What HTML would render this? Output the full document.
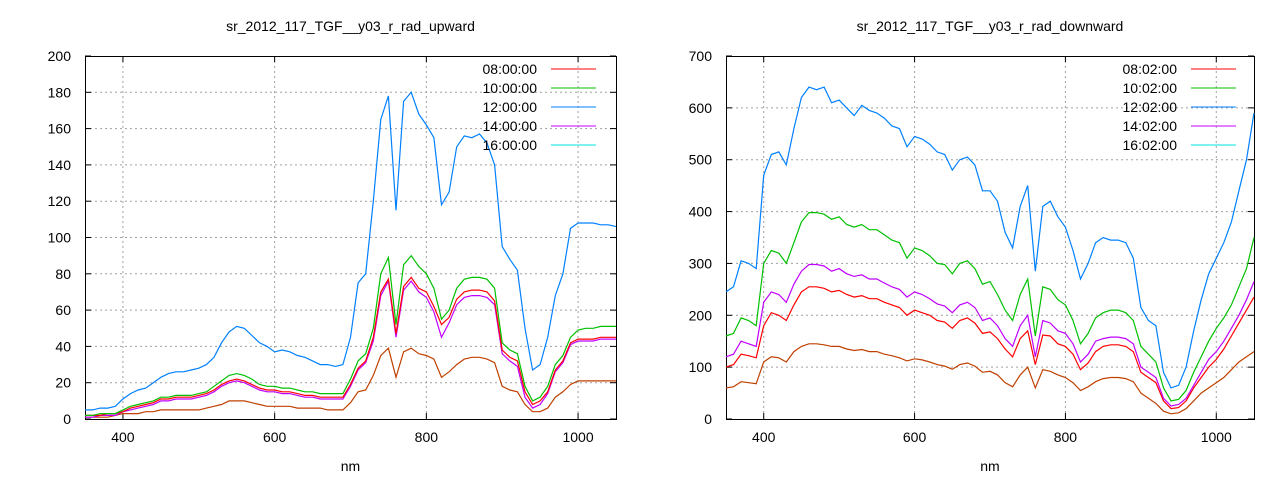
<!DOCTYPE html>
<html><head><meta charset="utf-8"><style>
body{margin:0;background:#fff;}
svg{display:block;font-family:"Liberation Sans",sans-serif;}
</style></head><body>
<svg id="c" width="1280" height="480"></svg>
<script>
const wavelengths = [];
for (let w = 350; w <= 1050; w += 10) wavelengths.push(w);
const xTicks = [400, 600, 800, 1000];
const yTicksLeft = [0,20,40,60,80,100,120,140,160,180,200];
const yTicksRight = [0,100,200,300,400,500,600,700];
const legendLeft = ["08:00:00","10:00:00","12:00:00","14:00:00","16:00:00"];
const legendRight = ["08:02:00","10:02:00","12:02:00","14:02:00","16:02:00"];

const upBlue = [5,5,6,6,7,11,14,16,17,20, 23,25,26,26,27,28,30,34,42,48, 51,50,46,42,40,37,38,37,35,34, 32,30,30,29,30,45,75,80,120,165, 178,115,175,180,168,162,155,118,125,150, 156,155,157,152,140,95,88,82,50,27, 30,45,68,80,105,108,108,108,107,107, 106];
const upGreen = [2,2,3,3,3,5,7,8,9,10, 12,12,13,13,13,14,15,18,21,24, 25,24,22,19,18,18,17,17,16,15, 15,14,14,14,14,22,32,36,50,80, 89,52,85,90,84,80,72,55,60,72, 77,78,78,77,72,42,38,36,18,10, 12,18,30,35,45,49,50,50,51,51, 51];
const upRed = [2,2,2,3,3,4,6,7,8,9, 11,11,12,12,12,13,14,16,19,21, 22,21,19,17,16,16,15,15,14,13, 13,12,12,12,12,19,28,32,45,70, 77,47,73,78,72,70,62,52,56,66, 70,71,71,70,65,38,34,32,15,8, 10,15,27,32,42,44,44,44,45,45, 45];
const upMagenta = [1,1,2,2,2,4,5,6,7,8, 10,10,11,11,11,12,13,15,18,20, 21,20,18,16,15,15,14,14,13,12, 12,11,11,11,11,18,27,31,43,68, 76,45,71,76,70,67,59,45,53,63, 67,68,68,67,63,36,32,29,12,6, 8,14,26,31,41,43,43,43,44,44, 44];
const upBrown = [1,1,1,1,2,3,3,3,4,4, 5,5,5,5,5,5,6,7,8,10, 10,10,9,8,7,7,7,7,6,6, 6,6,5,5,5,9,15,16,24,35, 39,23,37,39,36,35,33,23,26,30, 33,34,34,33,31,18,16,15,8,4, 4,6,12,15,19,21,21,21,21,21, 21];

const dnBlue = [245,255,305,300,290,470,510,515,490,560, 620,640,635,640,610,615,600,585,605,595, 590,580,565,560,525,545,540,530,515,510, 480,500,505,490,440,440,420,360,330,410, 450,285,410,420,390,370,325,270,300,340, 350,345,345,340,310,215,190,180,90,60, 65,100,170,230,280,310,340,380,440,500, 590];
const dnGreen = [160,165,195,190,180,300,325,320,300,340, 380,398,398,395,385,390,375,370,375,365, 365,355,345,340,310,330,325,315,300,298, 280,300,305,290,260,265,240,210,190,240, 270,160,255,250,230,220,190,145,165,195, 205,210,210,205,190,140,125,110,60,35, 38,55,90,120,150,175,195,220,255,290, 350];
const dnMagenta = [120,125,150,145,140,225,245,240,225,260, 285,298,298,295,285,290,280,275,278,270, 270,262,255,250,235,245,240,232,222,218, 205,220,225,215,190,195,180,155,140,180, 200,120,190,185,170,165,145,110,125,150, 155,158,158,155,145,100,90,80,40,25, 28,40,65,90,115,130,150,175,200,230, 265];
const dnRed = [100,105,125,122,118,180,205,200,190,220, 245,255,255,252,245,248,240,235,238,232, 232,225,220,215,200,210,205,200,190,187, 175,190,195,185,165,168,155,135,120,155, 170,105,162,160,145,140,125,95,108,130, 140,143,143,140,130,90,80,70,35,20, 22,35,60,80,100,115,135,160,185,210, 235];
const dnBrown = [60,62,72,70,68,110,120,118,110,130, 140,145,145,143,140,140,135,132,134,130, 130,125,122,118,112,116,114,110,105,102, 96,105,108,102,90,92,85,70,62,85, 100,60,95,92,85,80,70,55,62,72, 78,80,80,78,72,50,40,30,15,10, 12,20,35,50,60,70,80,95,110,120, 130];

const NS = "http://www.w3.org/2000/svg";
const svg = document.getElementById("c");
function mk(tag, attrs, parent){
  const e = document.createElementNS(NS, tag);
  for (const k in attrs) e.setAttribute(k, attrs[k]);
  (parent||svg).appendChild(e);
  return e;
}
const legendColors = ["#ff0000","#00c000","#0080ff","#c000ff","#00e0e0"];

function panel(cfg){
  const {x0,x1,y0,y1,ymax,yTicks,title,legend,series,name,lx} = cfg;
  const g = mk("g",{});
  
  
  const sx = v => x0 + (v-350)/(1050-350)*(x1-x0);
  const sy = v => y1 - v/ymax*(y1-y0);
  // grid
  xTicks.forEach(t=>{
    const l = mk("line",{x1:sx(t),x2:sx(t),y1:y0,y2:y1,stroke:"#a0a0a0","stroke-dasharray":"2,3","stroke-width":1},g);
    
    
    mk("line",{x1:sx(t),x2:sx(t),y1:y1,y2:y1-6,stroke:"#000"},g);
    mk("line",{x1:sx(t),x2:sx(t),y1:y0,y2:y0+6,stroke:"#000"},g);
    const tx = mk("text",{x:sx(t),y:y1+23,"text-anchor":"middle","font-size":14,fill:"#000"},g);
    tx.textContent = t;
    
    
  });
  yTicks.forEach(t=>{
    if (t>0 && t<ymax){
      const l = mk("line",{x1:x0,x2:x1,y1:sy(t),y2:sy(t),stroke:"#a0a0a0","stroke-dasharray":"2,3","stroke-width":1},g);
      
      
    }
    mk("line",{x1:x0,x2:x0+6,y1:sy(t),y2:sy(t),stroke:"#000"},g);
    mk("line",{x1:x1,x2:x1-6,y1:sy(t),y2:sy(t),stroke:"#000"},g);
    const tx = mk("text",{x:x0-14,y:sy(t)+5,"text-anchor":"end","font-size":14,fill:"#000"},g);
    tx.textContent = t;
    
    
  });
  const fr = mk("rect",{x:x0+0.5,y:y0+0.5,width:x1-x0,height:y1-y0,fill:"none",stroke:"#000"},g);
  
  
  const tt = mk("text",{x:(x0+x1)/2,y:31,"text-anchor":"middle","font-size":14,fill:"#000"},g);
  tt.textContent = title;
  
  
  const xl = mk("text",{x:(x0+x1)/2,y:471,"text-anchor":"middle","font-size":14,fill:"#000"},g);
  xl.textContent = "nm";
  
  
  series.forEach(s=>{
    const pts = s.data.map((v,i)=>sx(wavelengths[i]).toFixed(1)+","+sy(v).toFixed(1)).join(" ");
    const p = mk("polyline",{points:pts,fill:"none",stroke:s.color,"stroke-width":1.2},g);
    
    
  });
  legend.forEach((lab,i)=>{
    const yy = 69 + i*19;
    const t = mk("text",{x:lx,y:yy+5,"text-anchor":"end","font-size":14,fill:"#000"},g);
    t.textContent = lab;
    
    
    const l = mk("line",{x1:lx+14,x2:lx+59,y1:yy,y2:yy,stroke:legendColors[i],"stroke-width":1},g);
    
    
  });
}

panel({x0:85,x1:616,y0:56,y1:419,ymax:200,yTicks:yTicksLeft,title:"sr_2012_117_TGF__y03_r_rad_upward",
  legend:legendLeft,name:"upward-panel",lx:537,
  series:[{key:"brown",data:upBrown,color:"#c04000"},{key:"magenta",data:upMagenta,color:"#c000ff"},{key:"red",data:upRed,color:"#ff0000"},{key:"green",data:upGreen,color:"#00c000"},{key:"blue",data:upBlue,color:"#0080ff"}]});
panel({x0:726,x1:1254,y0:56,y1:419,ymax:700,yTicks:yTicksRight,title:"sr_2012_117_TGF__y03_r_rad_downward",
  legend:legendRight,name:"downward-panel",lx:1177,
  series:[{key:"brown",data:dnBrown,color:"#c04000"},{key:"red",data:dnRed,color:"#ff0000"},{key:"magenta",data:dnMagenta,color:"#c000ff"},{key:"green",data:dnGreen,color:"#00c000"},{key:"blue",data:dnBlue,color:"#0080ff"}]});
</script>
</body></html>
